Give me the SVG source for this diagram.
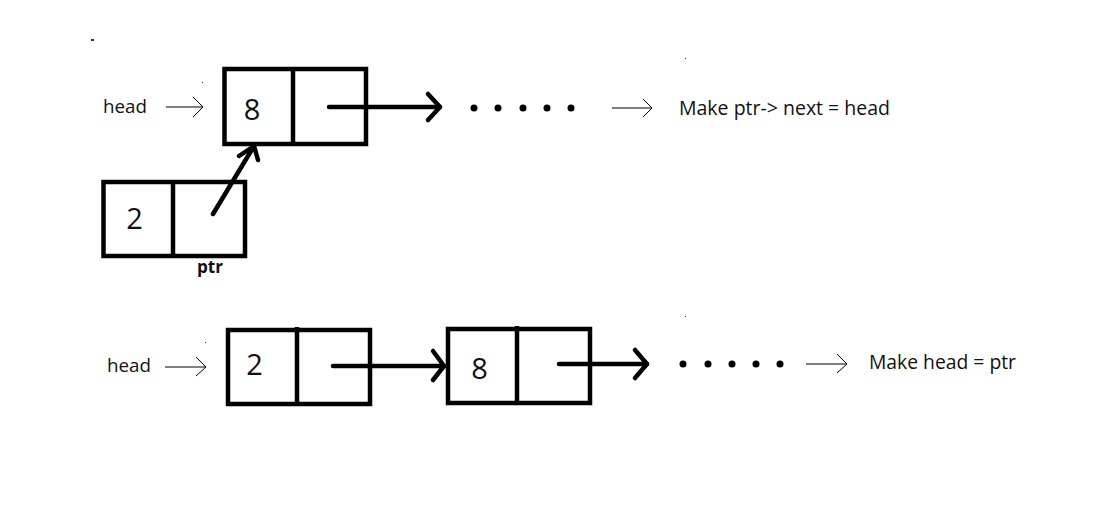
<svg xmlns="http://www.w3.org/2000/svg" width="1110" height="517" viewBox="0 0 1110 517">
  <style>
    .box { fill: none; stroke: #000; stroke-width: 4.5; stroke-linecap: square; }
    .div { stroke: #000; stroke-width: 4.5; }
    .thick { fill: none; stroke: #000; stroke-width: 4.5; stroke-linecap: round; stroke-linejoin: round; }
    .thin { fill: none; stroke: #000; stroke-width: 1; }
    .lbl { font-family: "Open Sans", "Liberation Sans", sans-serif; fill: #111; }
    .num { font-family: "Open Sans", "Liberation Sans", sans-serif; font-size: 29px; fill: #111; }
    .dot { fill: #000; }
  </style>
  <rect width="1110" height="517" fill="#fff"/>

  <!-- stray marks -->
  <g id="marks" fill="#333">
    <rect x="91" y="39" width="3" height="2"/>
    <rect x="202" y="82" width="1" height="1"/>
    <rect x="685" y="58" width="1" height="1"/>
    <rect x="205" y="342" width="1" height="1"/>
    <rect x="685" y="316" width="1" height="1"/>
  </g>

  <!-- top row -->
  <g id="label-head-top">
    <text class="lbl" x="103" y="113" font-size="19" textLength="44" lengthAdjust="spacingAndGlyphs">head</text>
  </g>
  <g id="node-top-8">
    <rect class="box" x="224.5" y="69" width="141.5" height="75"/>
    <line class="div" x1="293" y1="67" x2="293" y2="144"/>
    <text class="num" x="252" y="120" text-anchor="middle">8</text>
  </g>
  <g id="node-top-2">
    <rect class="box" x="103.5" y="182" width="141.5" height="74"/>
    <line class="div" x1="173" y1="180" x2="173" y2="256"/>
    <text class="num" x="134.5" y="229" text-anchor="middle">2</text>
    <text class="lbl" x="197" y="273" font-size="17" font-weight="bold" textLength="26" lengthAdjust="spacingAndGlyphs">ptr</text>
  </g>
  <g id="dots-top">
    <circle class="dot" cx="474" cy="108" r="3.5"/>
    <circle class="dot" cx="498" cy="108" r="3.5"/>
    <circle class="dot" cx="523" cy="108" r="3.5"/>
    <circle class="dot" cx="547" cy="108" r="3.5"/>
    <circle class="dot" cx="571" cy="108" r="3.5"/>
  </g>
  <g id="note-top">
    <text class="lbl" x="679" y="115" font-size="20" textLength="211" lengthAdjust="spacingAndGlyphs">Make ptr-&gt; next = head</text>
  </g>

  <!-- bottom row -->
  <g id="label-head-bottom">
    <text class="lbl" x="107" y="372" font-size="19" textLength="44" lengthAdjust="spacingAndGlyphs">head</text>
  </g>
  <g id="node-bottom-2">
    <rect class="box" x="228" y="330" width="142" height="74"/>
    <line class="div" x1="297" y1="327" x2="297" y2="404"/>
    <text class="num" x="254.5" y="375" text-anchor="middle">2</text>
  </g>
  <g id="node-bottom-8">
    <rect class="box" x="448" y="329" width="142" height="74"/>
    <line class="div" x1="517" y1="326" x2="517" y2="403"/>
    <text class="num" x="479.5" y="379" text-anchor="middle">8</text>
  </g>
  <g id="dots-bottom">
    <circle class="dot" cx="683" cy="364" r="3.5"/>
    <circle class="dot" cx="708" cy="364" r="3.5"/>
    <circle class="dot" cx="732" cy="364" r="3.5"/>
    <circle class="dot" cx="756" cy="364" r="3.5"/>
    <circle class="dot" cx="780" cy="364" r="3.5"/>
  </g>
  <g id="note-bottom">
    <text class="lbl" x="869" y="369" font-size="20" textLength="147" lengthAdjust="spacingAndGlyphs">Make head = ptr</text>
  </g>

  <!-- connectors -->
  <g id="connectors">
    <!-- thin pointer arrows -->
    <line class="thin" x1="166" y1="107" x2="203" y2="107"/>
    <polyline class="thin" points="193,97 203,107 193,117"/>
    <line class="thin" x1="612" y1="108" x2="652" y2="108"/>
    <polyline class="thin" points="643,99 652,108 643,117"/>
    <line class="thin" x1="165" y1="367" x2="206" y2="367"/>
    <polyline class="thin" points="196,357 206,367 196,376"/>
    <line class="thin" x1="806" y1="364" x2="847" y2="364"/>
    <polyline class="thin" points="837,354 847,364 837,373"/>

    <!-- thick next arrows -->
    <line class="thick" x1="329" y1="107" x2="440" y2="107"/>
    <polyline class="thick" points="428,94 440,107 428,120"/>
    <line class="thick" x1="213" y1="214" x2="254" y2="146"/>
    <polyline class="thick" points="239,156 254,146 258,160"/>
    <line class="thick" x1="333" y1="366" x2="444" y2="366"/>
    <polyline class="thick" points="433,351 444,366 433,380"/>
    <line class="thick" x1="559" y1="364" x2="647" y2="364"/>
    <polyline class="thick" points="635,350 647,364 635,378"/>
  </g>
</svg>
